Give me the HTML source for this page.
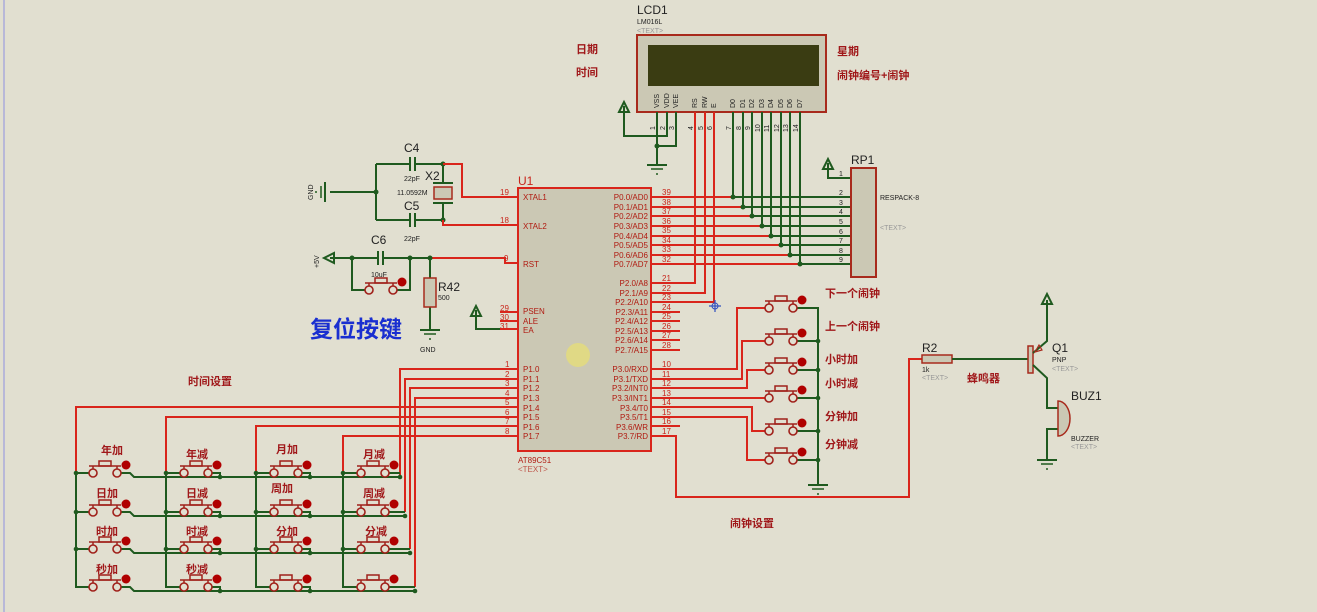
<!DOCTYPE html>
<html><head><meta charset="utf-8"><style>
html,body{margin:0;padding:0;background:#e1dfd0;}
svg{display:block;font-family:"Liberation Sans","Noto Sans CJK SC",sans-serif;}
.r{stroke:#d9251b;stroke-width:2;fill:none}
.g{stroke:#1f5a1f;stroke-width:2;fill:none}
.pn{fill:#c8251b;font-size:8px}
.lb{fill:#b01a10;font-size:8px}
.cn{fill:#a0181a;font-size:11px;font-weight:bold}
.bk{fill:#222;font-size:12px}
.sm{fill:#222;font-size:7px}
.tx{fill:#999;font-size:7px}
</style></head><body>
<svg width="1317" height="612" viewBox="0 0 1317 612" xmlns="http://www.w3.org/2000/svg">
<defs>
<g id="btn">
<circle cx="0" cy="0" r="4" fill="#e1dfd0" stroke="#a0201a" stroke-width="1.6"/>
<circle cx="24" cy="0" r="4" fill="#e1dfd0" stroke="#a0201a" stroke-width="1.6"/>
<line x1="0" y1="-4" x2="0" y2="-7" stroke="#a0201a" stroke-width="1.5"/>
<line x1="24" y1="-4" x2="24" y2="-7" stroke="#a0201a" stroke-width="1.5"/>
<line x1="-4" y1="-7" x2="28" y2="-7" stroke="#a0201a" stroke-width="1.6"/>
<rect x="6" y="-12" width="12" height="5" fill="none" stroke="#a0201a" stroke-width="1.5"/>
<circle cx="33" cy="-8" r="4.5" fill="#b00000"/>
</g>
<g id="gnd"><line x1="-10" y1="0" x2="10" y2="0" stroke="#1f5a1f" stroke-width="2"/><line x1="-6" y1="4" x2="6" y2="4" stroke="#1f5a1f" stroke-width="1.5"/><line x1="-1" y1="9" x2="1" y2="9" stroke="#1f5a1f" stroke-width="1.5"/></g>
<g id="pwr"><path d="M-5 6 L0 -4 L5 6 Z" fill="none" stroke="#1f5a1f" stroke-width="2"/></g>
</defs>
<line x1="4" y1="0" x2="4" y2="612" stroke="#b8b8d8" stroke-width="2"/>

<!-- LCD -->
<text x="637" y="14" class="bk">LCD1</text>
<text x="637" y="24" class="sm">LM016L</text>
<text x="637" y="33" class="tx">&lt;TEXT&gt;</text>
<rect x="637" y="35" width="189" height="77" fill="#cbc8b4" stroke="#a82a1c" stroke-width="2"/>
<rect x="648" y="45" width="171" height="41" fill="#3a3c12"/>
<g class="sm" font-size="6.5">
<text transform="translate(659,108) rotate(-90)">VSS</text>
<text transform="translate(669,108) rotate(-90)">VDD</text>
<text transform="translate(678,108) rotate(-90)">VEE</text>
<text transform="translate(697,108) rotate(-90)">RS</text>
<text transform="translate(707,108) rotate(-90)">RW</text>
<text transform="translate(716,108) rotate(-90)">E</text>
<text transform="translate(735,108) rotate(-90)">D0</text>
<text transform="translate(745,108) rotate(-90)">D1</text>
<text transform="translate(754,108) rotate(-90)">D2</text>
<text transform="translate(764,108) rotate(-90)">D3</text>
<text transform="translate(773,108) rotate(-90)">D4</text>
<text transform="translate(783,108) rotate(-90)">D5</text>
<text transform="translate(792,108) rotate(-90)">D6</text>
<text transform="translate(802,108) rotate(-90)">D7</text>
</g>
<g class="sm" font-size="6.5">
<text transform="translate(655,130) rotate(-90)">1</text><text transform="translate(665,130) rotate(-90)">2</text><text transform="translate(674,130) rotate(-90)">3</text>
<text transform="translate(693,130) rotate(-90)">4</text><text transform="translate(703,130) rotate(-90)">5</text><text transform="translate(712,130) rotate(-90)">6</text>
<text transform="translate(731,130) rotate(-90)">7</text><text transform="translate(741,130) rotate(-90)">8</text><text transform="translate(750,130) rotate(-90)">9</text><text transform="translate(760,132) rotate(-90)">10</text><text transform="translate(769,132) rotate(-90)">11</text><text transform="translate(779,132) rotate(-90)">12</text><text transform="translate(788,132) rotate(-90)">13</text><text transform="translate(798,132) rotate(-90)">14</text>
</g>
<text x="576" y="53" class="cn" font-size="13">日期</text>
<text x="576" y="76" class="cn" font-size="13">时间</text>
<text x="837" y="55" class="cn" font-size="13">星期</text>
<text x="837" y="79" class="cn" font-size="13">闹钟编号+闹钟</text>
<!-- LCD power -->
<use href="#pwr" x="624" y="106"/>
<path class="g" d="M624 106 V136 H667 V112 M657 112 V165 M657 146 H676 V112"/>
<circle cx="657" cy="146" r="2.5" fill="#1f5a1f"/>
<use href="#gnd" x="657" y="165"/>
<!-- RS RW E -->
<path class="r" d="M695 112 V283 H651 M705 112 V293 H651 M714 112 V302 H651"/>
<!-- data lines -->
<g class="r">
<line x1="651" y1="197" x2="733" y2="197"/><line x1="651" y1="207" x2="743" y2="207"/><line x1="651" y1="216" x2="752" y2="216"/><line x1="651" y1="226" x2="762" y2="226"/>
<line x1="651" y1="236" x2="771" y2="236"/><line x1="651" y1="245" x2="781" y2="245"/><line x1="651" y1="255" x2="790" y2="255"/><line x1="651" y1="264" x2="800" y2="264"/>
</g>
<g class="g">
<path d="M733 112 V197 H851 M743 112 V207 H851 M752 112 V216 H851 M762 112 V226 H851 M771 112 V236 H851 M781 112 V245 H851 M790 112 V255 H851 M800 112 V264 H851"/>
</g>
<g fill="#1f5a1f"><circle cx="733" cy="197" r="2.5"/><circle cx="743" cy="207" r="2.5"/><circle cx="752" cy="216" r="2.5"/><circle cx="762" cy="226" r="2.5"/><circle cx="771" cy="236" r="2.5"/><circle cx="781" cy="245" r="2.5"/><circle cx="790" cy="255" r="2.5"/><circle cx="800" cy="264" r="2.5"/></g>
<!-- RP1 -->
<use href="#pwr" x="828" y="163"/>
<path class="g" d="M828 163 V178 H851"/>
<rect x="851" y="168" width="25" height="109" fill="#cbc8b4" stroke="#a82a1c" stroke-width="2"/>
<text x="851" y="164" class="bk">RP1</text>
<text x="880" y="200" class="sm">RESPACK-8</text>
<text x="880" y="230" class="tx">&lt;TEXT&gt;</text>
<g class="sm"><text x="839" y="176">1</text><text x="839" y="195">2</text><text x="839" y="205">3</text><text x="839" y="214">4</text><text x="839" y="224">5</text><text x="839" y="234">6</text><text x="839" y="243">7</text><text x="839" y="253">8</text><text x="839" y="262">9</text></g>

<!-- chip -->
<text x="518" y="185" fill="#c8251b" font-size="12">U1</text>
<rect x="518" y="188" width="133" height="263" fill="#cbc8b4" stroke="#d9251b" stroke-width="2"/>
<circle cx="578" cy="355" r="12" fill="#e8e070" opacity="0.7"/>
<text x="518" y="463" class="lb">AT89C51</text>
<text x="518" y="472" class="lb" opacity="0.7">&lt;TEXT&gt;</text>
<g class="lb">
<text x="523" y="200">XTAL1</text><text x="523" y="229">XTAL2</text><text x="523" y="267">RST</text>
<text x="523" y="314">PSEN</text><text x="523" y="324">ALE</text><text x="523" y="333">EA</text>
<text x="523" y="372">P1.0</text><text x="523" y="382">P1.1</text><text x="523" y="391">P1.2</text><text x="523" y="401">P1.3</text><text x="523" y="411">P1.4</text><text x="523" y="420">P1.5</text><text x="523" y="430">P1.6</text><text x="523" y="439">P1.7</text>
</g>
<g class="lb" text-anchor="end">
<text x="648" y="200">P0.0/AD0</text><text x="648" y="210">P0.1/AD1</text><text x="648" y="219">P0.2/AD2</text><text x="648" y="229">P0.3/AD3</text><text x="648" y="239">P0.4/AD4</text><text x="648" y="248">P0.5/AD5</text><text x="648" y="258">P0.6/AD6</text><text x="648" y="267">P0.7/AD7</text>
<text x="648" y="286">P2.0/A8</text><text x="648" y="296">P2.1/A9</text><text x="648" y="305">P2.2/A10</text><text x="648" y="315">P2.3/A11</text><text x="648" y="324">P2.4/A12</text><text x="648" y="334">P2.5/A13</text><text x="648" y="343">P2.6/A14</text><text x="648" y="353">P2.7/A15</text>
<text x="648" y="372">P3.0/RXD</text><text x="648" y="382">P3.1/TXD</text><text x="648" y="391">P3.2/INT0</text><text x="648" y="401">P3.3/INT1</text><text x="648" y="411">P3.4/T0</text><text x="648" y="420">P3.5/T1</text><text x="648" y="430">P3.6/WR</text><text x="648" y="439">P3.7/RD</text>
</g>
<g class="pn">
<text x="500" y="195">19</text><text x="500" y="223">18</text><text x="504" y="261">9</text><text x="500" y="311">29</text><text x="500" y="320">30</text><text x="500" y="329">31</text>
<text x="505" y="367">1</text><text x="505" y="377">2</text><text x="505" y="386">3</text><text x="505" y="396">4</text><text x="505" y="405">5</text><text x="505" y="415">6</text><text x="505" y="424">7</text><text x="505" y="434">8</text>
<text x="662" y="195">39</text><text x="662" y="205">38</text><text x="662" y="214">37</text><text x="662" y="224">36</text><text x="662" y="233">35</text><text x="662" y="243">34</text><text x="662" y="252">33</text><text x="662" y="262">32</text>
<text x="662" y="281">21</text><text x="662" y="291">22</text><text x="662" y="300">23</text><text x="662" y="310">24</text><text x="662" y="319">25</text><text x="662" y="329">26</text><text x="662" y="338">27</text><text x="662" y="348">28</text>
<text x="662" y="367">10</text><text x="662" y="377">11</text><text x="662" y="386">12</text><text x="662" y="396">13</text><text x="662" y="405">14</text><text x="662" y="415">15</text><text x="662" y="424">16</text><text x="662" y="434">17</text>
</g>
<g class="r" stroke-width="1.5">
<path d="M651 283 H680 M651 293 H680 M651 302 H680 M651 312 H680 M651 321 H680 M651 331 H680 M651 340 H680 M651 350 H680 M651 426 H680"/>
<path d="M500 312 H518 M500 321 H518"/>
</g>
<path d="M715 300 v12 M709 306 h12" stroke="#3050c0" stroke-width="1.2"/><circle cx="715" cy="306" r="3" fill="none" stroke="#3050c0"/>

<!-- crystal -->
<use href="#gnd" x="0" y="0" transform="translate(325,192) rotate(90)"/>
<text transform="translate(313,200) rotate(-90)" class="sm">GND</text>
<path class="g" d="M330 192 H376 M376 164 V220 M376 164 H410 M415 164 H443 M376 220 H410 M415 220 H443 M443 164 V183 M443 203 V220"/>
<path class="g" stroke-width="2" d="M410 157 V171 M415 157 V171 M410 213 V227 M415 213 V227 M433 183 H453 M433 203 H453"/>
<rect x="434" y="187" width="18" height="12" fill="#cbc8b4" stroke="#a82a1c" stroke-width="1.5"/>
<g fill="#1f5a1f"><circle cx="376" cy="192" r="2.5"/><circle cx="443" cy="164" r="2.5"/><circle cx="443" cy="220" r="2.5"/></g>
<path class="r" d="M443 164 H462 V197 H518 M443 220 V225 H518"/>
<text x="404" y="152" class="bk">C4</text><text x="404" y="181" class="sm">22pF</text>
<text x="425" y="180" class="bk">X2</text><text x="397" y="195" class="sm">11.0592M</text>
<text x="404" y="210" class="bk">C5</text><text x="404" y="241" class="sm">22pF</text>
<!-- reset -->
<use href="#pwr" transform="translate(328,258) rotate(-90)"/>
<text transform="translate(319,268) rotate(-90)" class="sm">+5V</text>
<path class="g" d="M330 258 H378 M383 258 H430 V278 M352 258 V290 H369 M393 290 H410 V258 M378 251 V265 M383 251 V265 M430 307 V330"/>
<path class="r" d="M430 258 H505 V263 H518"/>
<use href="#btn" x="369" y="290"/>
<rect x="424" y="278" width="12" height="29" fill="#cbc8b4" stroke="#a82a1c" stroke-width="1.5"/>
<g fill="#1f5a1f"><circle cx="352" cy="258" r="2.5"/><circle cx="410" cy="258" r="2.5"/><circle cx="430" cy="258" r="2.5"/></g>
<use href="#gnd" x="430" y="330"/>
<text x="420" y="352" class="sm">GND</text>
<text x="371" y="244" class="bk">C6</text><text x="371" y="277" class="sm">10uF</text>
<text x="438" y="291" class="bk">R42</text><text x="438" y="300" class="sm">500</text>
<text x="310" y="337" fill="#1a2fd0" font-size="23" font-weight="bold">复位按键</text>
<!-- EA -->
<use href="#pwr" x="476" y="310"/>
<path class="g" d="M476 310 V329 H500"/><path class="r" d="M500 329 H518"/>

<!-- keypad -->
<text x="188" y="385" class="cn" font-size="13">时间设置</text>
<path class="r" d="M518 369 H400 V477 M518 379 H405 V512 M518 388 H410 V549 M518 398 H415 V587 M518 407 H76 V473 M518 417 H166 V473 M518 426 H256 V473 M518 436 H343 V473"/>
<path class="g" d="M76 473 V587 H93 M166 473 V587 H184 M256 473 V587 H274 M343 473 V587 H361"/>
<g class="g">
<path d="M76 473 H89 M121 473 H130 L134 477 H400 M166 473 H180 M256 473 H270 M343 473 H357"/>
<path d="M76 512 H89 M121 512 H130 L134 516 H405 M166 512 H180 M256 512 H270 M343 512 H357"/>
<path d="M76 549 H89 M121 549 H130 L134 553 H410 M166 549 H180 M256 549 H270 M343 549 H357"/>
<path d="M76 587 H89 M121 587 H130 L134 591 H415 M166 587 H180 M256 587 H270 M343 587 H357"/>
<path d="M212 473 H220 V477 M302 473 H310 V477 M389 473 H400 M212 512 H220 V516 M302 512 H310 V516 M389 512 H405 M212 549 H220 V553 M302 549 H310 V553 M389 549 H410 M212 587 H220 V591 M302 587 H310 V591 M389 587 H415"/>
</g>
<g fill="#1f5a1f">
<circle cx="76" cy="473" r="2.3"/><circle cx="166" cy="473" r="2.3"/><circle cx="256" cy="473" r="2.3"/><circle cx="343" cy="473" r="2.3"/>
<circle cx="76" cy="512" r="2.3"/><circle cx="166" cy="512" r="2.3"/><circle cx="256" cy="512" r="2.3"/><circle cx="343" cy="512" r="2.3"/>
<circle cx="76" cy="549" r="2.3"/><circle cx="166" cy="549" r="2.3"/><circle cx="256" cy="549" r="2.3"/><circle cx="343" cy="549" r="2.3"/>
<circle cx="220" cy="477" r="2.3"/><circle cx="310" cy="477" r="2.3"/><circle cx="400" cy="477" r="2.3"/>
<circle cx="220" cy="516" r="2.3"/><circle cx="310" cy="516" r="2.3"/><circle cx="405" cy="516" r="2.3"/>
<circle cx="220" cy="553" r="2.3"/><circle cx="310" cy="553" r="2.3"/><circle cx="410" cy="553" r="2.3"/>
<circle cx="220" cy="591" r="2.3"/><circle cx="310" cy="591" r="2.3"/><circle cx="415" cy="591" r="2.3"/>
</g>
<use href="#btn" x="93" y="473"/><use href="#btn" x="184" y="473"/><use href="#btn" x="274" y="473"/><use href="#btn" x="361" y="473"/>
<use href="#btn" x="93" y="512"/><use href="#btn" x="184" y="512"/><use href="#btn" x="274" y="512"/><use href="#btn" x="361" y="512"/>
<use href="#btn" x="93" y="549"/><use href="#btn" x="184" y="549"/><use href="#btn" x="274" y="549"/><use href="#btn" x="361" y="549"/>
<use href="#btn" x="93" y="587"/><use href="#btn" x="184" y="587"/><use href="#btn" x="274" y="587"/><use href="#btn" x="361" y="587"/>
<g class="cn" font-size="9">
<text x="101" y="454">年加</text><text x="186" y="458">年减</text><text x="276" y="453">月加</text><text x="363" y="458">月减</text>
<text x="96" y="497">日加</text><text x="186" y="497">日减</text><text x="271" y="492">周加</text><text x="363" y="497">周减</text>
<text x="96" y="535">时加</text><text x="186" y="535">时减</text><text x="276" y="535">分加</text><text x="365" y="535">分减</text>
<text x="96" y="573">秒加</text><text x="186" y="573">秒减</text>
</g>

<!-- alarm keys -->
<path class="r" d="M651 369 H737 V308 H769 M651 379 H742 V341 H769 M651 388 H747 V370 H769 M651 398 H769 M651 407 H752 V431 H769 M651 417 H747 V460 H769 M651 436 H676 V497 H909 V359 H922"/>
<path class="g" d="M793 308 H818 V485 M793 341 H818 M793 370 H818 M793 398 H818 M793 431 H818 M793 460 H818"/>
<g fill="#1f5a1f"><circle cx="818" cy="341" r="2.3"/><circle cx="818" cy="370" r="2.3"/><circle cx="818" cy="398" r="2.3"/><circle cx="818" cy="431" r="2.3"/><circle cx="818" cy="460" r="2.3"/></g>
<use href="#btn" x="769" y="308"/><use href="#btn" x="769" y="341"/><use href="#btn" x="769" y="370"/><use href="#btn" x="769" y="398"/><use href="#btn" x="769" y="431"/><use href="#btn" x="769" y="460"/>
<use href="#gnd" x="818" y="485"/>
<g class="cn" font-size="9">
<text x="825" y="297">下一个闹钟</text><text x="825" y="330">上一个闹钟</text><text x="825" y="363">小时加</text><text x="825" y="387">小时减</text><text x="825" y="420">分钟加</text><text x="825" y="448">分钟减</text>
</g>
<text x="730" y="527" class="cn" font-size="13">闹钟设置</text>
<!-- buzzer -->
<rect x="922" y="355" width="30" height="8" fill="#cbc8b4" stroke="#a82a1c" stroke-width="1.5"/>
<text x="922" y="352" class="bk">R2</text><text x="922" y="372" class="sm">1k</text><text x="922" y="380" class="tx">&lt;TEXT&gt;</text>
<text x="967" y="382" class="cn" font-size="8">蜂鸣器</text>
<path class="g" d="M952 359 H1028"/>
<rect x="1028" y="346" width="5" height="27" fill="#cbc8b4" stroke="#a82a1c" stroke-width="1.5"/>
<path d="M1033 353 L1047 341 V300 M1033 365 L1047 378 V408 H1058 M1058 429 H1047 V460" stroke="#1f5a1f" stroke-width="2" fill="none"/>
<path d="M1035 352 l4 -7 l3 5 z" fill="none" stroke="#a82a1c" stroke-width="1.2"/>
<use href="#pwr" x="1047" y="298"/>
<path d="M1058 401 A 12 17.5 0 0 1 1058 436 Z" fill="#cbc8b4" stroke="#a82a1c" stroke-width="1.5"/>
<use href="#gnd" x="1047" y="460"/>
<text x="1052" y="352" class="bk">Q1</text><text x="1052" y="362" class="sm">PNP</text><text x="1052" y="371" class="tx">&lt;TEXT&gt;</text>
<text x="1071" y="400" class="bk">BUZ1</text><text x="1071" y="441" class="sm">BUZZER</text><text x="1071" y="449" class="tx">&lt;TEXT&gt;</text>
</svg>
</body></html>
